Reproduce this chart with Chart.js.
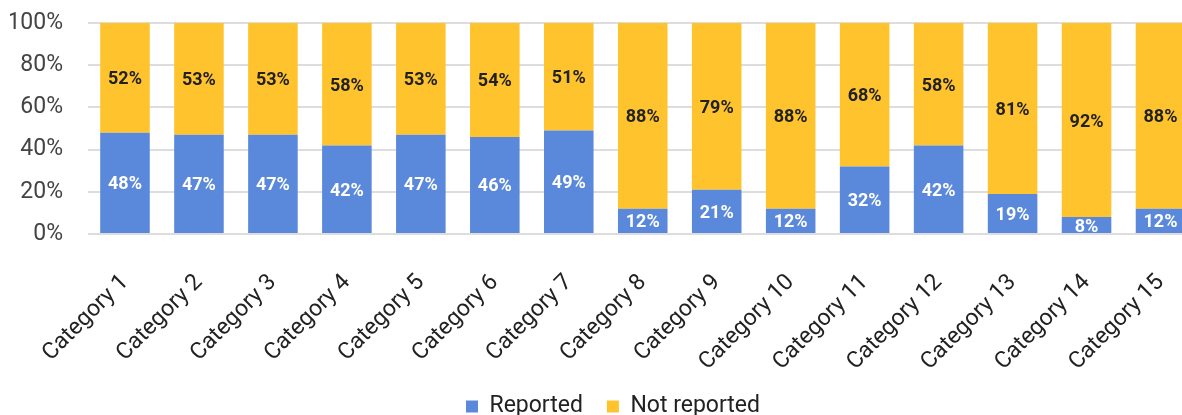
<!DOCTYPE html>
<html>
<head>
<meta charset="utf-8">
<script src="https://cdn.jsdelivr.net/npm/chart.js@4/dist/chart.umd.min.js"></script>
<style>
html,body{margin:0;padding:0;background:#fff;overflow:hidden;width:1182px;height:415px;}
#wrap{width:1224px;height:415px;}
</style>
</head>
<body>
<div id="wrap"><canvas id="c" width="1224" height="415"></canvas></div>
<script>
const categories = ["Category 1","Category 2","Category 3","Category 4","Category 5","Category 6","Category 7","Category 8","Category 9","Category 10","Category 11","Category 12","Category 13","Category 14","Category 15"];
const reported = [48,47,47,42,47,46,49,12,21,12,32,42,19,8,12];
const notReported = [52,53,53,58,53,54,51,88,79,88,68,58,81,92,88];
const seriesNames = ["Reported","Not reported"];
const yTicks = [0,20,40,60,80,100];

const BLUE = "#5A88DA";
const YELLOW = "#FFC32D";
const FONT = "Roboto, 'Noto Sans', sans-serif";

const labelPlugin = {
  id: 'segLabels',
  afterDatasetsDraw(chart) {
    const ctx = chart.ctx;
    ctx.save();
    ctx.font = "bold 18px " + FONT;
    ctx.textAlign = "center";
    ctx.textBaseline = "middle";
    chart.data.datasets.forEach((ds, di) => {
      const meta = chart.getDatasetMeta(di);
      ctx.fillStyle = di === 0 ? "#ffffff" : "#212121";
      meta.data.forEach((el, i) => {
        const v = ds.data[i];
        const cy = (el.y + el.base) / 2;
        ctx.fillText(v + "%", el.x, cy + 2);
      });
    });
    ctx.restore();
  }
};

new Chart(document.getElementById('c'), {
  type: 'bar',
  data: {
    labels: categories,
    datasets: [
      { label: seriesNames[0], data: reported, backgroundColor: BLUE, barPercentage: 0.67, categoryPercentage: 1.0 },
      { label: seriesNames[1], data: notReported, backgroundColor: YELLOW, barPercentage: 0.67, categoryPercentage: 1.0 }
    ]
  },
  options: {
    responsive: false,
    animation: false,
    layout: { padding: { left: 10, right: 8, top: 23, bottom: -13 } },
    plugins: {
      legend: {
        position: 'bottom',
        labels: {
          boxWidth: 12, boxHeight: 12, padding: 24,
          color: '#222',
          font: { family: FONT, size: 23 }
        }
      },
      tooltip: { enabled: false }
    },
    scales: {
      x: {
        stacked: true,
        grid: { display: false },
        border: { display: false },
        afterFit(s) { s.paddingLeft = 0; s.paddingRight = 26.5; s.height = 137; },
        ticks: {
          color: '#222',
          font: { family: FONT, size: 23 },
          minRotation: 45, maxRotation: 45,
          padding: 27
        }
      },
      y: {
        stacked: true,
        min: 0, max: 100,
        afterBuildTicks(axis) { axis.ticks = yTicks.map(v => ({ value: v })); },
        afterFit(s) { s.width = 78; s.paddingTop = 0; s.paddingBottom = 0; },
        grid: { color: '#dddddd', lineWidth: 2, drawTicks: false },
        border: { display: false },
        ticks: {
          color: '#444',
          font: { family: FONT, size: 23 },
          padding: 25,
          callback: v => v + '%'
        }
      }
    }
  },
  plugins: [labelPlugin]
});
</script>
</body>
</html>
